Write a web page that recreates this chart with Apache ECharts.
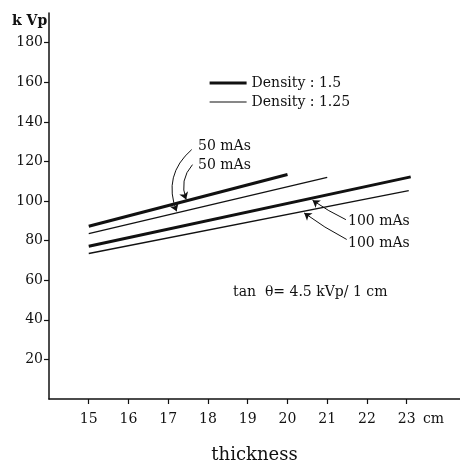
<!DOCTYPE html>
<html><head><meta charset="utf-8">
<script src="https://cdn.jsdelivr.net/npm/echarts@6/dist/echarts.min.js"></script>
<style>html,body{margin:0;padding:0;background:#fff}#c{width:460px;height:463px}</style>
</head><body><div id="c"></div>
<script>
// thickness (cm) and kVp values
const thickness50D15 = [15, 20];
const kvp50D15 = [87.3, 113.4];
const thickness50D125 = [15, 21];
const kvp50D125 = [83.6, 112.0];
const thickness100D15 = [15, 23.1];
const kvp100D15 = [77.2, 112.2];
const thickness100D125 = [15, 23.05];
const kvp100D125 = [73.5, 105.3];
const xTicks = [15, 16, 17, 18, 19, 20, 21, 22, 23];
const yTicks = [20, 40, 60, 80, 100, 120, 140, 160, 180];
const legendNames = ['Density : 1.5', 'Density : 1.25'];
// annotation arrows: from (cm, kVp) to (cm, kVp), curveness
const arrowFromX = [17.59, 17.61, 21.47, 21.49];
const arrowFromY = [126.0, 118.4, 90.6, 80.6];
const arrowToX = [17.21, 17.45, 20.63, 20.42];
const arrowToY = [94.8, 100.8, 100.4, 94.0];
const arrowCurve = [-0.35, -0.3, 0.04, 0.04];

const zip = (xs, ys) => xs.map((x, i) => [x, ys[i]]);
const FONT = 'DejaVu Serif';
const INK = '#111';

const arrowData = arrowFromX.map((x, i) => ({
  coords: [[x, arrowFromY[i]], [arrowToX[i], arrowToY[i]]],
  lineStyle: { curveness: arrowCurve[i] }
}));

const chart = echarts.init(document.getElementById('c'), null, { renderer: 'canvas' });
const thick = { color: INK, width: 3 };
const thin = { color: INK, width: 1.3 };
chart.setOption({
  animation: false,
  backgroundColor: '#fff',
  grid: { left: 49, right: 0, top: 13, bottom: 64, containLabel: false, outerBoundsMode: 'none' },
  legend: {
    data: [
      { name: legendNames[0], lineStyle: { width: 3.2, color: INK }, itemStyle: { opacity: 0 } },
      { name: legendNames[1], lineStyle: { width: 1.2, color: INK }, itemStyle: { opacity: 0 } }
    ],
    orient: 'vertical',
    left: 208, top: 76, padding: 0,
    itemWidth: 37, itemHeight: 14, itemGap: 5,
    textStyle: { fontFamily: FONT, fontSize: 14, color: INK },
    selectedMode: false
  },
  xAxis: {
    type: 'value', min: 14, max: 24.34, interval: 1,
    name: 'thickness', nameLocation: 'middle', nameGap: 47,
    nameTextStyle: { fontFamily: FONT, fontSize: 18, color: INK },
    axisLine: { show: true, onZero: false, lineStyle: { color: INK, width: 1.5 } },
    axisTick: { show: true, length: 5, customValues: xTicks, lineStyle: { color: INK, width: 1.2 } },
    axisLabel: { customValues: xTicks, margin: 13, fontFamily: FONT, fontSize: 14, color: INK },
    splitLine: { show: false }
  },
  yAxis: {
    type: 'value', min: 0, max: 195, interval: 20,
    axisLine: { show: true, onZero: false, lineStyle: { color: INK, width: 1.5 } },
    axisTick: { show: true, length: 5, customValues: yTicks, lineStyle: { color: INK, width: 1.2 } },
    axisLabel: { customValues: yTicks, margin: 6, fontFamily: FONT, fontSize: 14, color: INK },
    splitLine: { show: false }
  },
  series: [
    { name: legendNames[0], type: 'line', symbol: 'none', data: zip(thickness50D15, kvp50D15), lineStyle: thick, itemStyle: { color: INK } },
    { name: legendNames[1], type: 'line', symbol: 'none', data: zip(thickness50D125, kvp50D125), lineStyle: thin, itemStyle: { color: INK } },
    { name: legendNames[0], type: 'line', symbol: 'none', data: zip(thickness100D15, kvp100D15), lineStyle: thick, itemStyle: { color: INK } },
    { name: legendNames[1], type: 'line', symbol: 'none', data: zip(thickness100D125, kvp100D125), lineStyle: thin, itemStyle: { color: INK } },
    {
      name: 'arrows', type: 'lines', coordinateSystem: 'cartesian2d', silent: true,
      symbol: ['none', 'arrow'], symbolSize: [6, 7],
      lineStyle: { color: INK, width: 1, opacity: 1 },
      data: arrowData
    }
  ],
  graphic: [
    { type: 'text', left: 12, top: 14, style: { text: 'k Vp', font: 'bold 14px "DejaVu Serif"', fill: INK } },
    { type: 'text', left: 423, top: 412, style: { text: 'cm', font: '14px "DejaVu Serif"', fill: INK } },
    { type: 'text', left: 198, top: 139, style: { text: '50 mAs', font: '14px "DejaVu Serif"', fill: INK } },
    { type: 'text', left: 198, top: 158, style: { text: '50 mAs', font: '14px "DejaVu Serif"', fill: INK } },
    { type: 'text', left: 348, top: 214, style: { text: '100 mAs', font: '14px "DejaVu Serif"', fill: INK } },
    { type: 'text', left: 348, top: 236, style: { text: '100 mAs', font: '14px "DejaVu Serif"', fill: INK } },
    { type: 'text', left: 233, top: 285, style: { text: 'tan  θ= 4.5 kVp/ 1 cm', font: '14px "DejaVu Serif"', fill: INK } }
  ]
});
</script></body></html>
